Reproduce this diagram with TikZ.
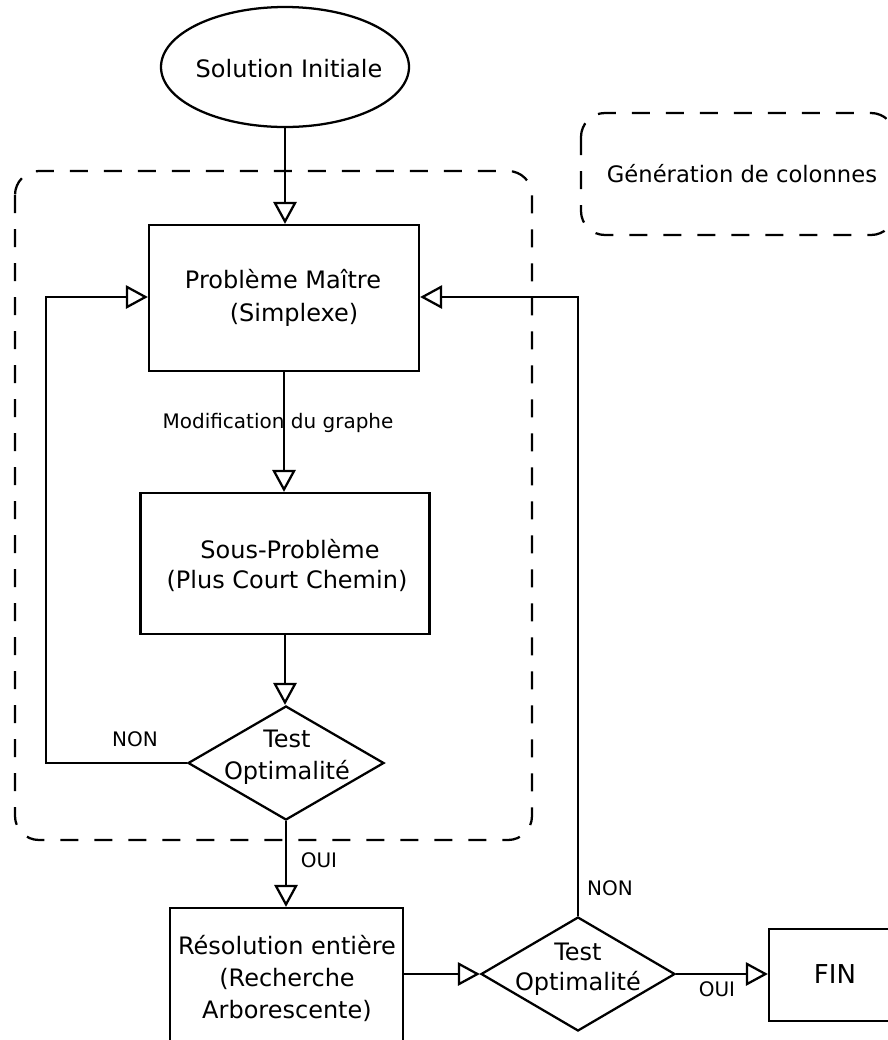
\documentclass[tikz,border=0pt]{standalone}
\usepackage{fontspec}
\setmainfont{DejaVu Sans}
\usetikzlibrary{arrows.meta,shapes.geometric,calc}
\begin{document}
\begin{tikzpicture}[x=0.75pt,y=-0.75pt,
  line width=1.7pt,
  arr/.style={-{Triangle[open,length=16.5pt,width=17.5pt]}},
  box/.style={draw, rectangle, inner sep=0pt},
  dec/.style={draw, diamond, inner sep=0pt},
  txt/.style={align=center, inner sep=0pt, font=\fontsize{18}{24}\selectfont},
  lbl/.style={inner sep=0pt, font=\fontsize{15}{18}\selectfont},
  grp/.style={draw, line width=1.7pt, dash pattern=on 13.5pt off 12pt, rounded corners=18pt}
]
\clip (0,0) rectangle (888,1040);

% group frames
\draw[grp] (15,171) rectangle (532,840);
\draw[grp] (581,113) rectangle (895,235);
\node[txt, font=\fontsize{17}{20}\selectfont] (gen) at (742,174) {Génération de colonnes};

% nodes
\node[draw, ellipse, inner sep=0pt, minimum width=186pt, minimum height=90pt] (sol) at (285,67) {};
\node[txt] (soltxt) at (289,69) {Solution Initiale};

\node[box, minimum width=202.5pt, minimum height=109.5pt] (pm) at (284,298) {};
\node[txt, font=\fontsize{18}{24.75}\selectfont] (pmtxt) at (283,298) {Problème Maître\\\hspace*{16.5pt}(Simplexe)};

\node[box, minimum width=216.75pt, minimum height=105.75pt] (sp) at (285,563.5) {};
\node[txt, font=\fontsize{18}{22.5}\selectfont] (sptxt) at (287,565) {\hspace*{4.5pt}Sous-Problème\\(Plus Court Chemin)};

\node[dec, minimum width=147pt, minimum height=85.5pt] (t1) at (286,763) {};
\node[txt] (t1txt) at (287,757) {Test\\Optimalité};

\node[box, minimum width=174.75pt, minimum height=106.5pt] (res) at (286.5,979) {};
\node[txt] (restxt) at (287,978) {Résolution entière\\(Recherche\\Arborescente)};

\node[dec, minimum width=145.5pt, minimum height=85.5pt] (t2) at (578,974) {};
\node[txt, font=\fontsize{18}{22.5}\selectfont] (t2txt) at (578,969) {Test\\Optimalité};

\node[box, minimum width=99pt, minimum height=69pt] (fin) at (835,975) {};
\node[txt, font=\fontsize{19.5}{24}\selectfont] (fintxt) at (835,974) {FIN};

% labels
\node[lbl] (modif) at (278,423) {Modification du graphe};
\node[lbl] (non1) at (135,739) {NON};
\node[lbl] (oui1) at (319,860) {OUI};
\node[lbl] (non2) at (610,888) {NON};
\node[lbl] (oui2) at (717,989) {OUI};

% connectors
\coordinate (L) at (46,297);
\coordinate (R) at (578,297);
\draw[arr] (sol.south) -- (sol.south |- pm.north);
\draw[arr] (pm.south) -- (pm.south |- sp.north);
\draw[arr] (sp.south) -- (sp.south |- t1.north);
\draw[arr] (t1.west) -| (L) -- (L -| pm.west);
\draw[arr] (t1.south) -- (t1.south |- res.north);
\draw[arr] (res.east |- t2.west) -- (t2.west);
\draw[arr] (t2.east) -- (fin.west |- t2.east);
\draw[arr] (t2.north) -- (R) -- (R -| pm.east);
\end{tikzpicture}
\end{document}
